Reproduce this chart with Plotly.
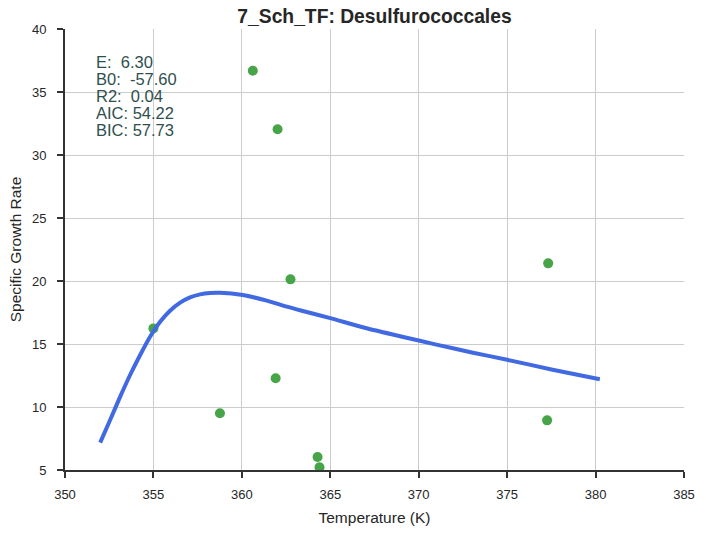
import plotly.graph_objects as go

# observed data
temps = [355.0, 358.76, 360.62, 362.02, 361.91, 362.75, 364.28, 364.39, 377.32, 377.26]
rates = [16.24, 9.5, 36.69, 32.04, 12.28, 20.13, 6.03, 5.21, 21.4, 8.94]

# fitted Schoolfield curve
fit_temps = [351.99, 352.55, 353.12, 353.68, 354.25, 354.81, 355.38, 355.94, 356.51, 357.07,
             357.64, 358.2, 358.77, 360.05, 361.41, 362.54, 363.5, 365.0, 367.0, 369.0,
             371.0, 373.0, 375.0, 377.5, 380.24]
fit_rates = [7.17, 8.97, 10.82, 12.54, 14.13, 15.58, 16.77, 17.64, 18.28, 18.7,
             18.94, 19.05, 19.07, 18.89, 18.44, 17.96, 17.6, 17.05, 16.27, 15.6,
             14.95, 14.33, 13.75, 12.98, 12.2]

stats = ['E:  6.30', 'B0:  -57.60', 'R2:  0.04', 'AIC: 54.22', 'BIC: 57.73']

title = '7_Sch_TF: Desulfurococcales'
x_ticks = [350, 355, 360, 365, 370, 375, 380, 385]
y_ticks = [5, 10, 15, 20, 25, 30, 35, 40]

font = 'Liberation Sans, Arial, sans-serif'
ink = '#262626'

fig = go.Figure()
fig.add_trace(go.Scatter(x=temps, y=rates, mode='markers',
                         marker=dict(color='#48A448', size=10), showlegend=False))
fig.add_trace(go.Scatter(x=fit_temps, y=fit_rates, mode='lines',
                         line=dict(color='#4169E1', width=4, shape='spline', smoothing=0.6),
                         showlegend=False))

for i, s in enumerate(stats):
    fig.add_annotation(text=s, xref='paper', yref='paper', x=0, y=1,
                       xanchor='left', yanchor='middle', xshift=29, yshift=-32.5 - i * 17.1,
                       showarrow=False, font=dict(family=font, size=16.5, color='#2F4F4F'))

axis_common = dict(showgrid=True, gridcolor='#CCCCCC', gridwidth=1, zeroline=False,
                   showline=True, linecolor='#333333', linewidth=2,
                   ticks='outside', ticklen=6, tickwidth=1.5, tickcolor='#333333',
                   tickfont=dict(family=font, size=13, color=ink),
                   automargin=False, mirror=False)

fig.update_layout(
    width=706, height=533,
    margin=dict(l=65, r=22, t=29, b=63),
    paper_bgcolor='white', plot_bgcolor='white',
    title=dict(text='<b>' + title + '</b>', x=0.5, xref='paper', y=1 - 16 / 533, yref='container',
               yanchor='middle', font=dict(family=font, size=19.3, color=ink)),
    xaxis=dict(range=[350, 385], tickvals=x_ticks, ticklabelstandoff=5,
               title=dict(text='Temperature (K)', font=dict(family=font, size=15.5, color=ink),
                          standoff=12),
               **axis_common),
    yaxis=dict(range=[5, 40], tickvals=y_ticks, ticklabelstandoff=8,
               title=dict(text='Specific Growth Rate', font=dict(family=font, size=15.5, color=ink),
                          standoff=7),
               **axis_common),
)

# page body margin would otherwise shift the figure by 8px
fig.write_html('out.html', config={'displayModeBar': False},
               post_script="document.body.style.margin='0px';")
